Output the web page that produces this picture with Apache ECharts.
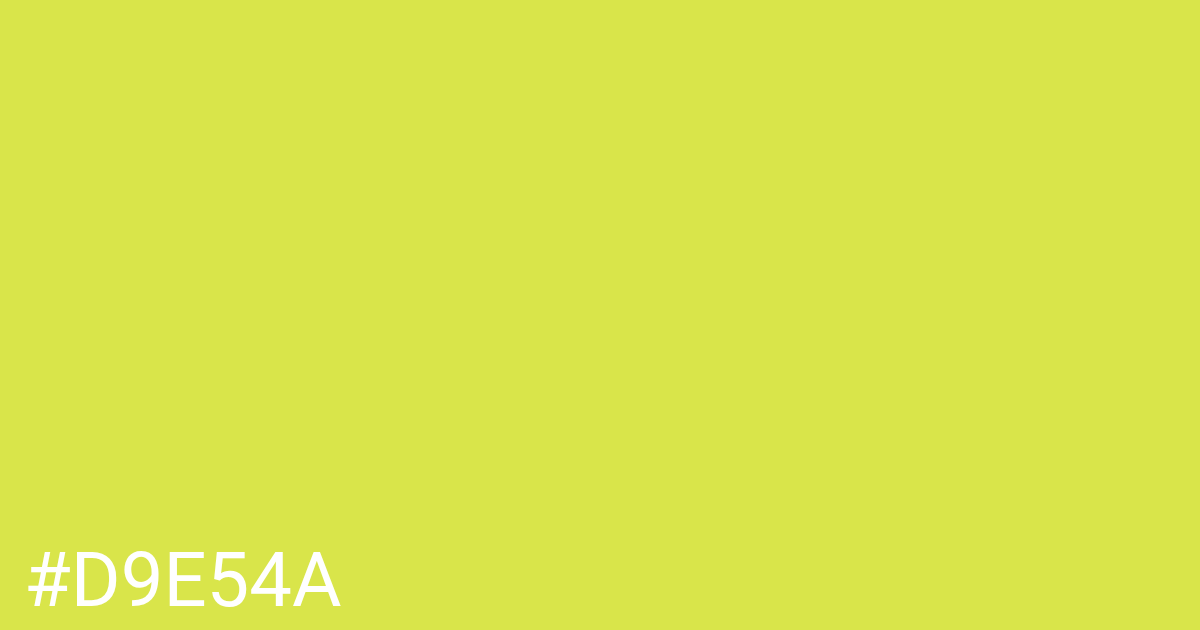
<!DOCTYPE html>
<html>
<head>
<meta charset="utf-8">
<script src="https://cdn.jsdelivr.net/npm/echarts@6/dist/echarts.min.js"></script>
<style>
html, body { margin: 0; padding: 0; }
#chart { width: 1200px; height: 630px; }
</style>
</head>
<body>
<div id="chart"></div>
<script>
// swatch colour and its label
var swatchColors = ['#D9E54A'];
var swatchLabels = ['#D9E54A'];

var chart = echarts.init(document.getElementById('chart'));

chart.setOption({
    backgroundColor: swatchColors[0],
    animation: false,
    title: {
        text: swatchLabels[0],
        left: 19,
        top: 544,
        textStyle: {
            color: '#ffffff',
            fontFamily: 'Roboto',
            fontWeight: 'normal',
            fontSize: 76
        }
    }
});
</script>
</body>
</html>
